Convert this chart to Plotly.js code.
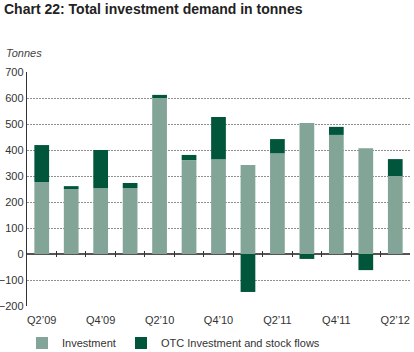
<!DOCTYPE html>
<html>
<head>
<meta charset="utf-8">
<script src="https://cdn.plot.ly/plotly-3.0.1.min.js"></script>
<style>html,body{margin:0;padding:0;background:#fff;}#chart{width:414px;height:352px;}</style>
</head>
<body>
<div id="chart"></div>
<script>
const quarters = ["Q2’09","Q3’09","Q4’09","Q1’10","Q2’10","Q3’10","Q4’10","Q1’11","Q2’11","Q3’11","Q4’11","Q1’12","Q2’12"];
const investment = [277, 250, 253, 253, 600, 361, 365, 342, 388, 504, 458, 407, 300];
const otcFlows = [142, 11, 147, 20, 12, 20, 162, -146, 54, -19, 31, -62, 65];
const yTicks = [-200, -100, 0, 100, 200, 300, 400, 500, 600, 700];
const labelEvery = 2;

const idx = quarters.map((q, i) => i);
const tickIdx = idx.filter(i => i % labelEvery === 0);
const sepIdx = idx.slice(0, -1).map(i => i + 0.5);

const traces = [
  {type: "bar", name: "Investment", x: idx, y: investment, legendwidth: 54,
   marker: {color: "#82a597", line: {width: 0}}, hoverinfo: "skip"},
  {type: "bar", name: "OTC Investment and stock flows", x: idx, y: otcFlows,
   marker: {color: "#00553b", line: {width: 0}}, hoverinfo: "skip"},
  // empty helper trace so the separator-tick axis at the zero line is drawn
  {type: "scatter", mode: "markers", x: [], y: [], xaxis: "x2", yaxis: "y",
   showlegend: false, hoverinfo: "skip"}
];

const font = "'Liberation Sans', Arial, sans-serif";
const layout = {
  width: 414, height: 352,
  margin: {l: 27, r: 4, t: 72, b: 46, pad: 0},
  paper_bgcolor: "#fff", plot_bgcolor: "#fff",
  barmode: "relative", bargap: 0.5,
  font: {family: font, size: 11, color: "#333"},
  title: {text: "Chart 22: Total investment demand in tonnes", xref: "container", x: 4/414, xanchor: "left",
          yref: "container", y: 1 - 9/352, yanchor: "middle",
          font: {family: font, size: 14, weight: "bold", color: "#222"}},
  xaxis: {range: [-0.5, quarters.length - 0.5], tickvals: tickIdx, ticktext: tickIdx.map(i => quarters[i]),
          ticks: "", ticklabelstandoff: 6, showgrid: false, zeroline: false, showline: false, fixedrange: true,
          tickfont: {size: 11, color: "#333"}},
  xaxis2: {overlaying: "x", anchor: "free", position: 0.2393, side: "bottom",
           range: [-0.5, quarters.length - 0.5], tickvals: sepIdx, showticklabels: false,
           ticks: "outside", ticklen: 6, tickwidth: 1, tickcolor: "#333",
           showgrid: false, zeroline: false, showline: false, fixedrange: true},
  yaxis: {range: [-200, 700], tickvals: yTicks, ticks: "", showgrid: true, gridcolor: "#8f8f8f",
          griddash: "2px,1px", gridwidth: 1, zeroline: true, zerolinecolor: "#555", zerolinewidth: 1.5,
          showline: true, linecolor: "#333", linewidth: 1.2, tickfont: {size: 11, color: "#333"},
          fixedrange: true},
  showlegend: true,
  legend: {orientation: "h", xref: "container", yref: "container", x: 22/414, xanchor: "left",
           y: 1 - 343/352, yanchor: "middle", font: {size: 11, color: "#333"},
           traceorder: "normal", bgcolor: "rgba(0,0,0,0)"},
  annotations: [{text: "<i>Tonnes</i>", xref: "paper", yref: "paper", x: (4 - 27)/383, xanchor: "left",
                 y: (306 - 53)/234, yanchor: "middle", showarrow: false,
                 font: {size: 11, color: "#444"}}]
};

Plotly.newPlot("chart", traces, layout, {staticPlot: true, displayModeBar: false});
</script>
</body>
</html>
